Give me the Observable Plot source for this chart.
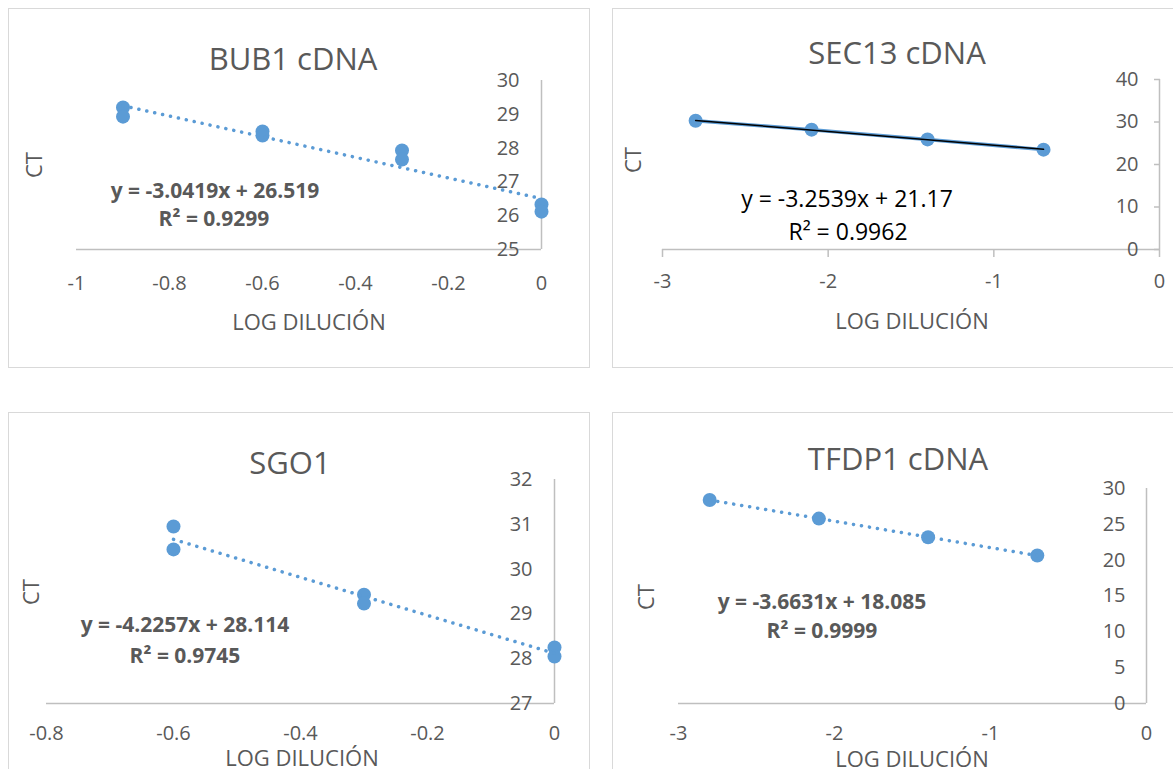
<!DOCTYPE html>
<html><head><meta charset="utf-8">
<script src="https://cdn.jsdelivr.net/npm/d3@7"></script>
<script src="https://cdn.jsdelivr.net/npm/@observablehq/plot@0.6"></script>
<style>
body{margin:0;background:#fff;}
#page{position:relative;width:1173px;height:769px;overflow:hidden;background:#fff;font-family:"Open Sans",sans-serif;}
.frame{position:absolute;border:1.5px solid #d9d9d9;box-sizing:border-box;}
.lbl{position:absolute;white-space:nowrap;transform:translate(-50%,-50%);color:#595959;line-height:1;}
svg{position:absolute;overflow:visible;}
</style></head><body><div id="page"></div>
<script>
// ---- data ----
const titles = ["BUB1 cDNA", "SEC13 cDNA", "SGO1", "TFDP1 cDNA"];
const xLabel = "LOG DILUCIÓN";
const yLabel = "CT";
const equations = ["y = -3.0419x + 26.519", "y = -3.2539x + 21.17", "y = -4.2257x + 28.114", "y = -3.6631x + 18.085"];
const rSquared = ["R² = 0.9299", "R² = 0.9962", "R² = 0.9745", "R² = 0.9999"];

const bub1X = [-0.9, -0.9, -0.6, -0.6, -0.3, -0.3, 0, 0];
const bub1CT = [29.2, 28.93, 28.49, 28.37, 27.93, 27.66, 26.33, 26.12];
const sec13X = [-2.8, -2.1, -1.4, -0.7];
const sec13CT = [30.3, 28.2, 25.9, 23.5];
const sgo1X = [-0.6, -0.6, -0.3, -0.3, 0, 0];
const sgo1CT = [30.95, 30.44, 29.43, 29.23, 28.25, 28.05];
const tfdp1X = [-2.8, -2.1, -1.4, -0.7];
const tfdp1CT = [28.4, 25.8, 23.2, 20.65];

const bub1XTicks = [-1, -0.8, -0.6, -0.4, -0.2, 0];
const bub1YTicks = [25, 26, 27, 28, 29, 30];
const sec13XTicks = [-3, -2, -1, 0];
const sec13YTicks = [0, 10, 20, 30, 40];
const sgo1XTicks = [-0.8, -0.6, -0.4, -0.2, 0];
const sgo1YTicks = [27, 28, 29, 30, 31, 32];
const tfdp1XTicks = [-3, -2, -1, 0];
const tfdp1YTicks = [0, 5, 10, 15, 20, 25, 30];

// ---- layout ----
const BLUE = "#5b9bd5", GRID = "#bfbfbf", TXT = "#595959";
const panels = [
  {xs: bub1X, ys: bub1CT, xt: bub1XTicks, yt: bub1YTicks, title: titles[0], eq: equations[0], r2: rSquared[0],
   frame: [8, 8, 590, 368], plot: [76, 80, 541, 249], titlePos: [293, 58], ctPos: [33, 165], xlPos: [309, 321],
   eqPos: [215, 190], r2Pos: [214, 218], bold: true, eqColor: TXT, ticks: false, xPad: 26, yPad: 22, style: "dotted"},
  {xs: sec13X, ys: sec13CT, xt: sec13XTicks, yt: sec13YTicks, title: titles[1], eq: equations[1], r2: rSquared[1],
   frame: [612, 8, 1190, 368], plot: [662, 79, 1159, 249], titlePos: [897, 52], ctPos: [632, 160], xlPos: [912, 320],
   eqPos: [847, 198], r2Pos: [848, 231], bold: false, eqColor: "#000", ticks: true, xPad: 16, yPad: 21, style: "solid"},
  {xs: sgo1X, ys: sgo1CT, xt: sgo1XTicks, yt: sgo1YTicks, title: titles[2], eq: equations[2], r2: rSquared[2],
   frame: [8, 412, 590, 800], plot: [46, 479, 554, 703], titlePos: [290, 462], ctPos: [30, 592], xlPos: [302, 757],
   eqPos: [185, 624], r2Pos: [185, 655], bold: true, eqColor: TXT, ticks: false, xPad: 22, yPad: 22, style: "dotted"},
  {xs: tfdp1X, ys: tfdp1CT, xt: tfdp1XTicks, yt: tfdp1YTicks, title: titles[3], eq: equations[3], r2: rSquared[3],
   frame: [612, 412, 1190, 800], plot: [678, 488, 1146, 703], titlePos: [898, 458], ctPos: [645, 597], xlPos: [912, 758],
   eqPos: [822, 601], r2Pos: [822, 630], bold: true, eqColor: TXT, ticks: false, xPad: 22, yPad: 21, style: "dotted"}
];

const page = document.getElementById("page");
function label(text, [x, y], css) {
  const d = document.createElement("div");
  d.className = "lbl";
  d.textContent = text;
  d.style.left = x + "px"; d.style.top = y + "px";
  Object.assign(d.style, css || {});
  page.appendChild(d);
}

for (const p of panels) {
  const [fx0, fy0, fx1, fy1] = p.frame, [px0, py0, px1, py1] = p.plot;
  const fr = document.createElement("div");
  fr.className = "frame";
  Object.assign(fr.style, {left: fx0 + "px", top: fy0 + "px", width: (fx1 - fx0) + "px", height: (fy1 - fy0) + "px"});
  page.appendChild(fr);

  const data = p.xs.map((x, i) => ({x, y: p.ys[i]}));
  const marks = [
    Plot.ruleY([p.yt[0]], {stroke: GRID, strokeWidth: 1.5}),
    Plot.ruleX([0], {stroke: GRID, strokeWidth: 1.5}),
    Plot.axisX({ticks: p.xt, tickFormat: d => String(d), tickSize: p.ticks ? 8 : 0, tickPadding: p.xPad,
      stroke: GRID, strokeWidth: 1.5, fill: TXT, fontSize: 20, label: null}),
    Plot.axisY({anchor: "right", ticks: p.yt, tickFormat: d => String(d), tickSize: 0, tickPadding: 0,
      textAnchor: "end", dx: -p.yPad, fill: TXT, fontSize: 20, label: null})
  ];
  if (p.ticks) {
    marks.push(Plot.axisY({anchor: "right", ticks: p.yt, tickSize: -6, text: null, stroke: GRID, strokeWidth: 1.5, label: null}));
  }
  if (p.style === "solid") {
    marks.push(Plot.line(data, {x: "x", y: "y", stroke: BLUE, strokeWidth: 3.5}));
    marks.push(Plot.dot(data, {x: "x", y: "y", r: 7, fill: BLUE}));
    marks.push(Plot.linearRegressionY(data, {x: "x", y: "y", stroke: "#000", strokeWidth: 1.5, ci: 0}));
  } else {
    marks.push(Plot.dot(data, {x: "x", y: "y", r: 7, fill: BLUE}));
    marks.push(Plot.linearRegressionY(data, {x: "x", y: "y", stroke: BLUE, strokeWidth: 3.5, ci: 0,
      strokeDasharray: "0.1,8", strokeLinecap: "round"}));
  }
  const svg = Plot.plot({
    width: fx1 - fx0, height: fy1 - fy0,
    marginLeft: px0 - fx0, marginRight: fx1 - px1, marginTop: py0 - fy0, marginBottom: fy1 - py1,
    x: {domain: [p.xt[0], p.xt[p.xt.length - 1]], label: null},
    y: {domain: [p.yt[0], p.yt[p.yt.length - 1]], label: null},
    style: {fontFamily: "'Open Sans', sans-serif", color: TXT, background: "transparent", overflow: "visible"},
    marks
  });
  svg.style.left = fx0 + "px"; svg.style.top = fy0 + "px";
  page.appendChild(svg);

  const eqSize = p.bold ? "21px" : "23px";
  label(p.title, p.titlePos, {fontSize: "31px"});
  label(yLabel, p.ctPos, {fontSize: "22px", transform: "translate(-50%,-50%) rotate(-90deg)"});
  label(xLabel, p.xlPos, {fontSize: "22px"});
  label(p.eq, p.eqPos, {fontSize: eqSize, fontWeight: p.bold ? "700" : "400", color: p.eqColor});
  label(p.r2, p.r2Pos, {fontSize: eqSize, fontWeight: p.bold ? "700" : "400", color: p.eqColor});
}
</script></body></html>
